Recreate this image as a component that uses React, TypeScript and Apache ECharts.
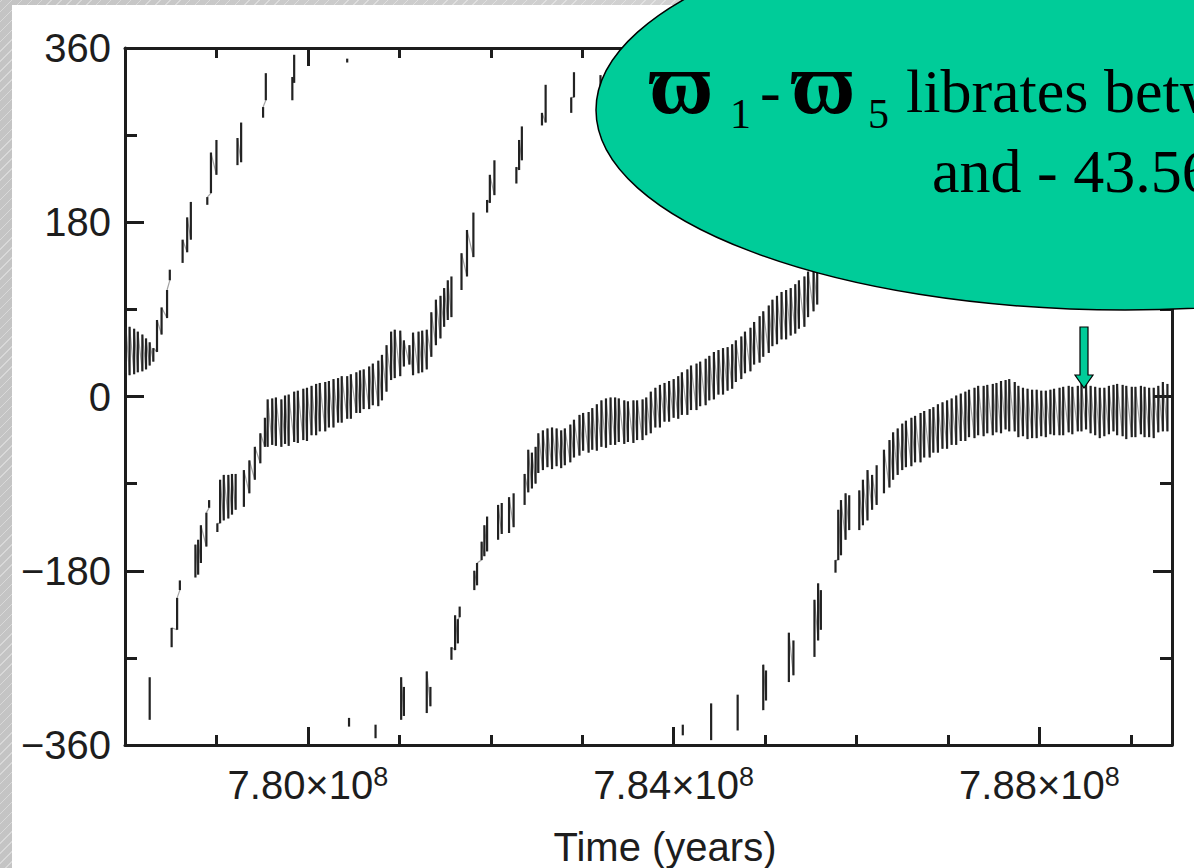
import React, { useEffect, useRef } from "react";
import * as echarts from "echarts";

// ---- axes ----
const timeMin = 778; // Myr
const timeMax = 789.45;
const timeMajorTicks = [780, 784, 788];
const angleMin = -360;
const angleMax = 360;
const xTitle = "Time (years)";

// ---- data: each stroke is [time (Myr), low angle (deg), high angle (deg)] ----
const upperBranch1 = [
  [778.01, 24, 72], [778.05, 22, 72], [778.1, 23, 70], [778.14, 25, 67], [778.19, 26, 64],
  [778.23, 28, 60], [778.27, 32, 56], [778.31, 36, 50], [778.35, 46, 79], [778.4, 64, 92],
  [778.46, 81, 110], [778.49, 120, 131], [778.63, 138, 162], [778.68, 149, 185], [778.72, 162, 201],
  [778.9, 198, 206], [778.94, 210, 252], [779.0, 229, 265], [779.23, 239, 267], [779.27, 242, 283],
  [779.51, 288, 299], [779.54, 306, 334], [779.83, 306, 330], [779.85, 324, 353], [780.43, 345, 349],
];

const lowerCopy1 = [[778.27, -334, -290]];

const middleBranch1 = [
  [778.51, -259, -239], [778.57, -241, -208], [778.6, -200, -190], [778.77, -187, -153],
  [778.8, -184, -148], [778.83, -172, -133], [778.89, -155, -120], [778.92, -115, -107],
  [779.01, -140, -131], [779.04, -131, -86], [779.08, -128, -81], [779.13, -126, -81],
  [779.17, -122, -80], [779.21, -117, -80], [779.3, -114, -76], [779.36, -100, -66],
  [779.42, -86, -52], [779.48, -69, -38], [779.53, -52, -22],
  [779.56, -52, -3], [779.61, -50, -2], [779.65, -51, -1], [779.71, -52, -3], [779.75, -49, 1],
  [779.79, -51, 2], [779.85, -47, 5], [779.89, -48, 6], [779.95, -45, 8], [779.99, -46, 9],
  [780.04, -40, 11], [780.09, -40, 13], [780.13, -36, 14], [780.19, -36, 15], [780.23, -32, 16],
  [780.28, -32, 18], [780.33, -27, 19], [780.37, -27, 21], [780.43, -23, 21], [780.47, -23, 23],
  [780.53, -17, 25], [780.57, -17, 27], [780.61, -13, 28], [780.67, -13, 31], [780.71, -9, 34],
  [780.77, -10, 37], [780.81, -4, 43], [780.86, 5, 53], [780.91, 17, 67], [780.95, 19, 69],
  [781.01, 21, 68], [781.05, 31, 58], [781.11, 33, 53], [781.15, 22, 66], [781.21, 24, 67],
  [781.25, 25, 68], [781.3, 28, 69], [781.35, 41, 87], [781.4, 53, 100], [781.45, 60, 104],
  [781.49, 72, 112], [781.53, 79, 120], [781.57, 82, 124],
  [781.68, 110, 148], [781.74, 124, 172], [781.81, 144, 190], [781.96, 190, 203],
  [781.99, 200, 229], [782.04, 208, 244], [782.28, 220, 237], [782.31, 234, 265],
  [782.34, 244, 279], [782.56, 280, 293], [782.6, 283, 322], [782.88, 293, 309],
  [782.91, 309, 335], [783.2, 320, 332],
];

const middleBranch2 = [
  [780.45, -341, -332], [780.74, -353, -339], [781.02, -334, -290], [781.05, -330, -300],
  [781.3, -327, -284], [781.34, -320, -300], [781.57, -272, -259], [781.61, -262, -226],
  [781.64, -255, -230], [781.66, -228, -217], [781.82, -200, -180], [781.85, -195, -172],
  [781.9, -169, -150], [781.93, -165, -133], [781.96, -160, -124], [782.08, -148, -112],
  [782.12, -142, -110], [782.2, -141, -104], [782.25, -135, -100], [782.37, -112, -80],
  [782.41, -99, -55], [782.45, -95, -58], [782.49, -90, -52], [782.52, -79, -38],
  [782.57, -76, -35], [782.62, -73, -33], [782.67, -75, -32], [782.72, -72, -33], [782.77, -74, -35],
  [782.81, -71, -33], [782.87, -68, -29], [782.91, -63, -24], [782.97, -61, -19], [783.01, -56, -17],
  [783.07, -58, -16], [783.11, -55, -12], [783.16, -56, -8], [783.21, -52, -4], [783.26, -53, -2],
  [783.31, -50, -1], [783.36, -50, -1], [783.4, -47, -2], [783.46, -49, -4], [783.5, -47, -5],
  [783.56, -48, -4], [783.6, -45, -4], [783.66, -45, -3], [783.7, -40, -1], [783.75, -38, 5],
  [783.8, -32, 9], [783.85, -32, 12], [783.9, -26, 14], [783.95, -26, 16], [784.0, -22, 18],
  [784.05, -23, 21], [784.09, -19, 25], [784.15, -19, 28], [784.19, -14, 32], [784.25, -14, 34],
  [784.29, -10, 36], [784.35, -9, 39], [784.39, -4, 42], [784.44, -3, 46], [784.49, 2, 48],
  [784.54, 2, 50], [784.59, 6, 51], [784.64, 8, 54], [784.68, 15, 58], [784.74, 18, 62],
  [784.78, 24, 67], [784.84, 26, 71], [784.88, 33, 77], [784.94, 35, 83], [784.98, 41, 88],
  [785.04, 45, 94], [785.08, 52, 100], [785.13, 54, 104], [785.18, 59, 108], [785.23, 59, 110],
  [785.28, 63, 112], [785.33, 65, 116], [785.37, 70, 120], [785.43, 72, 124], [785.47, 82, 129],
  [785.53, 88, 133], [785.57, 95, 137],
];

const lowerBranch3 = [
  [784.1, -350, -339], [784.41, -355, -317], [784.7, -345, -308], [784.98, -324, -277],
  [785.01, -314, -283], [785.26, -295, -244], [785.31, -288, -252], [785.54, -269, -210],
  [785.58, -252, -193], [785.61, -241, -200], [785.77, -182, -169], [785.8, -169, -117],
  [785.83, -164, -107], [785.88, -148, -100], [785.92, -138, -102], [786.03, -138, -97],
  [786.07, -133, -86], [786.12, -128, -76], [786.17, -117, -81], [786.22, -112, -71],
  [786.3, -100, -55], [786.36, -94, -45], [786.4, -86, -37], [786.45, -81, -33],
  [786.5, -76, -28], [786.54, -73, -25], [786.6, -72, -22], [786.64, -68, -20], [786.7, -68, -17],
  [786.74, -63, -15], [786.8, -63, -13], [786.84, -58, -11], [786.89, -58, -8], [786.94, -54, -6],
  [786.99, -54, -4], [787.04, -50, -2], [787.09, -50, 1], [787.14, -46, 3], [787.19, -46, 5],
  [787.23, -42, 7], [787.29, -43, 9], [787.33, -40, 11], [787.39, -41, 11], [787.43, -38, 12],
  [787.49, -40, 13], [787.53, -37, 14], [787.58, -38, 16], [787.63, -34, 17], [787.67, -36, 18],
  [787.73, -36, 15], [787.77, -42, 11], [787.82, -41, 9], [787.87, -44, 8], [787.92, -43, 7],
  [787.97, -43, 7], [788.02, -41, 6], [788.07, -42, 6], [788.12, -39, 7], [788.16, -40, 8],
  [788.22, -40, 9], [788.26, -40, 10], [788.32, -37, 11], [788.36, -39, 10], [788.42, -36, 11],
  [788.46, -36, 13], [788.51, -34, 13], [788.56, -38, 11], [788.61, -40, 10], [788.66, -43, 9],
  [788.71, -41, 9], [788.76, -39, 11], [788.81, -36, 12], [788.85, -40, 13], [788.91, -41, 12],
  [788.95, -44, 11], [789.01, -42, 10], [789.05, -42, 10], [789.11, -39, 11], [789.15, -42, 10],
  [789.2, -42, 9], [789.25, -43, 9], [789.3, -37, 11], [789.35, -36, 15], [789.4, -36, 13],
];

const branches = [upperBranch1, lowerCopy1, middleBranch1, middleBranch2, lowerBranch3];

// ---- styling constants ----
const INK = "#1d1d1d";
const SANS = '"Liberation Sans", Arial, sans-serif';
const SERIF = '"Liberation Serif", "Times New Roman", "DejaVu Serif", serif';
const TEAL = "#00CC99";

function buildOption() {
  const strokes: number[][] = [];
  const links: number[][] = [];
  branches.forEach((b) => {
    b.forEach((s, i) => {
      strokes.push(s);
      const n = b[i + 1];
      if (n && n[0] - s[0] <= 0.07) links.push([s[0], s[2], n[0], n[1]]);
    });
  });

  const axisLineStyle = { color: INK, width: 3 };
  const tickStyle = { color: INK, width: 3 };
  const grid = { left: 125, top: 48, width: 1047, height: 697 };

  const xBase = {
    type: "value",
    min: timeMin,
    max: timeMax,
    splitLine: { show: false },
  };
  const yBase = {
    type: "value",
    min: angleMin,
    max: angleMax,
    splitLine: { show: false },
  };

  return {
    animation: false,
    grid,
    xAxis: [
      {
        ...xBase,
        position: "bottom",
        interval: 1,
        axisLine: { show: true, onZero: false, lineStyle: axisLineStyle },
        axisTick: { show: true, inside: true, length: 10, lineStyle: tickStyle },
        axisLabel: { show: false },
      },
      {
        ...xBase,
        position: "bottom",
        axisLine: { show: false, onZero: false },
        axisTick: { show: true, inside: true, length: 18, lineStyle: tickStyle, customValues: timeMajorTicks },
        axisLabel: {
          show: true,
          customValues: timeMajorTicks,
          margin: 18,
          formatter: (v: number) => `{m|${(v / 100).toFixed(2)}×10}{e|8}`,
          rich: {
            m: { fontSize: 40, fontFamily: SANS, color: INK, lineHeight: 44 },
            e: { fontSize: 27, fontFamily: SANS, color: INK, lineHeight: 20, verticalAlign: "top" },
          },
        },
      },
      {
        ...xBase,
        position: "top",
        interval: 1,
        axisLine: { show: true, onZero: false, lineStyle: axisLineStyle },
        axisTick: { show: true, inside: true, length: 10, lineStyle: tickStyle },
        axisLabel: { show: false },
      },
      {
        ...xBase,
        position: "top",
        axisLine: { show: false, onZero: false },
        axisTick: { show: true, inside: true, length: 18, lineStyle: tickStyle, customValues: timeMajorTicks },
        axisLabel: { show: false },
      },
    ],
    yAxis: [
      {
        ...yBase,
        position: "left",
        interval: 90,
        axisLine: { show: true, onZero: false, lineStyle: axisLineStyle },
        axisTick: { show: true, inside: true, length: 12, lineStyle: tickStyle },
        axisLabel: {
          show: true,
          margin: 14,
          fontSize: 40,
          fontFamily: SANS,
          color: INK,
          formatter: (v: number) => (v % 180 === 0 ? (v < 0 ? "\u2212" + Math.abs(v) : String(v)) : ""),
        },
      },
      {
        ...yBase,
        position: "left",
        interval: 180,
        axisLine: { show: false, onZero: false },
        axisTick: { show: true, inside: true, length: 19, lineStyle: tickStyle },
        axisLabel: { show: false },
      },
      {
        ...yBase,
        position: "right",
        interval: 90,
        axisLine: { show: true, onZero: false, lineStyle: axisLineStyle },
        axisTick: { show: true, inside: true, length: 12, lineStyle: tickStyle },
        axisLabel: { show: false },
      },
      {
        ...yBase,
        position: "right",
        interval: 180,
        axisLine: { show: false, onZero: false },
        axisTick: { show: true, inside: true, length: 19, lineStyle: tickStyle },
        axisLabel: { show: false },
      },
    ],
    series: [
      {
        type: "custom",
        name: "links",
        xAxisIndex: 0,
        yAxisIndex: 0,
        clip: true,
        silent: true,
        data: links,
        encode: { x: [0, 2], y: [1, 3] },
        renderItem: (_p: any, api: any) => {
          const a = api.coord([api.value(0), api.value(1)]);
          const b = api.coord([api.value(2), api.value(3)]);
          return {
            type: "line",
            shape: { x1: a[0], y1: a[1], x2: b[0], y2: b[1] },
            style: { stroke: "rgba(50,50,50,0.45)", lineWidth: 1.2 },
          };
        },
      },
      {
        type: "custom",
        name: "ϖ1 − ϖ5",
        xAxisIndex: 0,
        yAxisIndex: 0,
        clip: true,
        silent: true,
        data: strokes,
        encode: { x: 0, y: [1, 2] },
        renderItem: (_p: any, api: any) => {
          const t = api.value(0);
          const a = api.coord([t, api.value(1)]);
          const b = api.coord([t, api.value(2)]);
          return {
            type: "line",
            shape: { x1: a[0], y1: a[1], x2: b[0], y2: b[1] },
            style: { stroke: "#222222", lineWidth: 2.2 },
          };
        },
      },
    ],
    graphic: [
      {
        type: "text",
        x: 665,
        y: 847,
        style: { text: xTitle, font: `40px ${SANS}`, fill: INK, align: "center", verticalAlign: "middle" },
      },
      {
        type: "ellipse",
        z: 100,
        shape: { cx: 1125, cy: 110, rx: 529, ry: 200 },
        style: { fill: TEAL, stroke: "#000", lineWidth: 1.5 },
      },
      {
        type: "text",
        z: 101,
        x: 649,
        y: 83,
        style: { text: "ϖ", font: `bold 88px ${SERIF}`, fill: "#000", align: "left", verticalAlign: "middle" },
      },
      {
        type: "text",
        z: 101,
        x: 730,
        y: 114,
        style: { text: "1", font: `42px ${SERIF}`, fill: "#000", align: "left", verticalAlign: "middle" },
      },
      {
        type: "text",
        z: 101,
        x: 760,
        y: 91,
        style: { text: "-", font: `62px ${SERIF}`, fill: "#000", align: "left", verticalAlign: "middle" },
      },
      {
        type: "text",
        z: 101,
        x: 791,
        y: 83,
        style: { text: "ϖ", font: `bold 88px ${SERIF}`, fill: "#000", align: "left", verticalAlign: "middle" },
      },
      {
        type: "text",
        z: 101,
        x: 868,
        y: 114,
        style: { text: "5", font: `42px ${SERIF}`, fill: "#000", align: "left", verticalAlign: "middle" },
      },
      {
        type: "text",
        z: 101,
        x: 906,
        y: 91,
        style: { text: "librates between", font: `62px ${SERIF}`, fill: "#000", align: "left", verticalAlign: "middle" },
      },
      {
        type: "text",
        z: 101,
        x: 932,
        y: 171,
        style: { text: "and - 43.56", font: `62px ${SERIF}`, fill: "#000", align: "left", verticalAlign: "middle" },
      },
      {
        type: "polygon",
        z: 100,
        shape: {
          points: [
            [1080, 327], [1088, 327], [1088, 375], [1093, 375], [1084, 388], [1075, 375], [1080, 375],
          ],
        },
        style: { fill: TEAL, stroke: "#000", lineWidth: 1.2 },
      },
    ],
  };
}

export default function App() {
  const ref = useRef<HTMLDivElement>(null);
  useEffect(() => {
    if (!ref.current) return;
    const chart = echarts.init(ref.current, null, { renderer: "svg" });
    chart.setOption(buildOption() as any);
    return () => chart.dispose();
  }, []);
  return (
    <div
      style={{
        position: "fixed",
        left: 0,
        top: 0,
        width: 1194,
        height: 868,
        overflow: "hidden",
        background:
          "repeating-linear-gradient(-45deg, rgba(255,255,255,0.35) 0px, rgba(255,255,255,0.35) 1px, rgba(255,255,255,0) 1px, rgba(255,255,255,0) 7px), linear-gradient(90deg, #c4c4c4, #dcdcdc)",
      }}
    >
      <div style={{ position: "absolute", left: 12, top: 5, right: 0, bottom: 0, background: "#ffffff" }} />
      <div ref={ref} style={{ position: "absolute", left: 0, top: 0, width: 1194, height: 868 }} />
    </div>
  );
}
